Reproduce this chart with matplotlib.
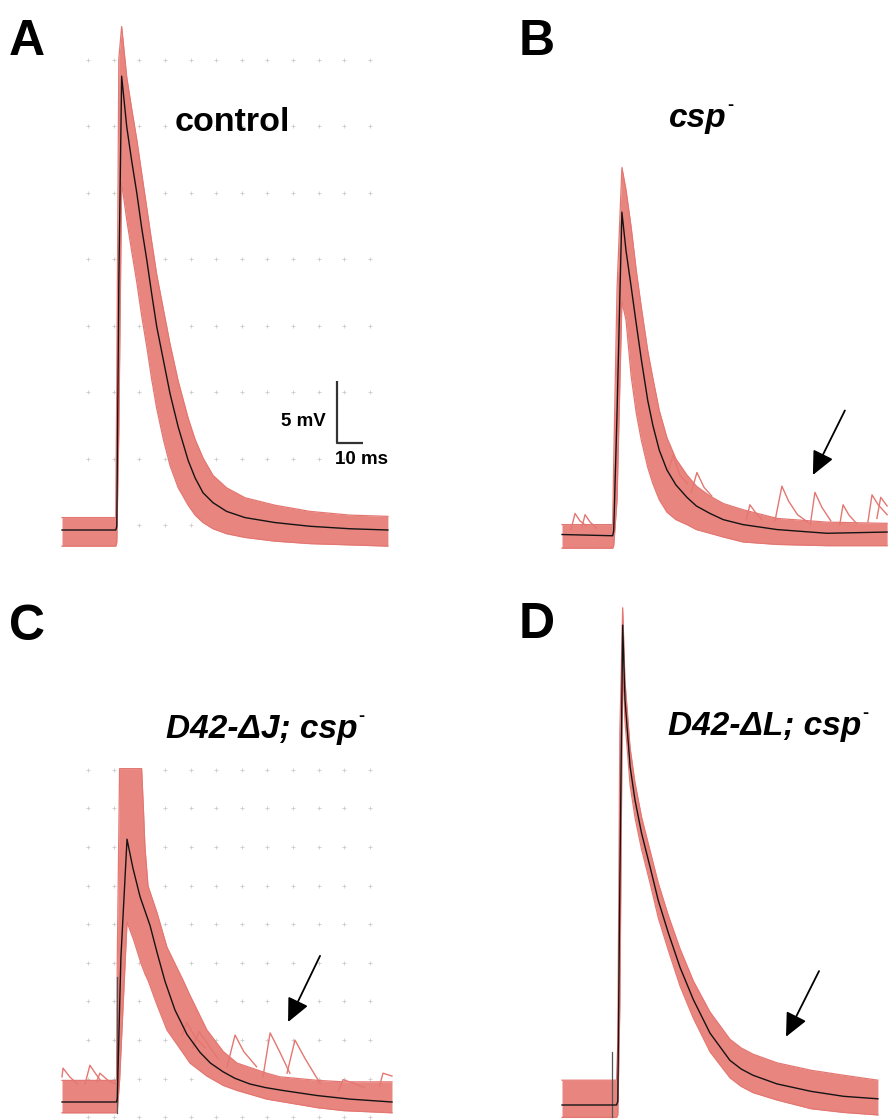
import numpy as np
import matplotlib
matplotlib.use("Agg")
import matplotlib.pyplot as plt

plt.rcParams['font.family'] = ['Liberation Sans', 'DejaVu Sans']

W, H = 888, 1120
PINK = '#E9857F'
PINK_EDGE = '#E47772'

# ---------------- data (time in ms, voltage in mV) ----------------
# Panel A: control
A_t    = [0, 21.0, 21.4, 22.2, 23.3, 25.3, 27.2, 29.2, 31.1, 33.1, 35.0, 37.0, 39.6, 42.2, 45.4, 49.3, 52.0, 55.1, 59.0, 64.3, 71.5, 83.2, 96.9, 112.5, 127.3]
A_mean = [0, 0, 0.3, 20.0, 36.6, 32.5, 29.8, 27.2, 24.4, 21.8, 19.1, 16.4, 13.7, 11.0, 8.3, 5.6, 4.2, 3.0, 2.2, 1.5, 1.0, 0.6, 0.3, 0.1, 0]
A_up   = [1.0, 1.0, 12.0, 38.0, 40.6, 36.5, 34.0, 31.5, 28.8, 26.0, 23.3, 20.6, 17.8, 15.0, 12.0, 9.0, 7.3, 5.8, 4.4, 3.4, 2.6, 2.0, 1.5, 1.2, 1.1]
A_lo   = [-1.3, -1.3, -1.0, 8.0, 28.0, 25.0, 22.5, 20.0, 17.3, 14.8, 12.2, 9.8, 7.3, 5.2, 3.4, 2.0, 1.2, 0.6, 0.1, -0.3, -0.6, -0.9, -1.1, -1.2, -1.3]

# Panel B: csp-
B_t    = [0, 19.8, 20.2, 21.5, 23.4, 25.0, 27.0, 29.0, 31.0, 33.5, 35.5, 38.0, 41.0, 44.5, 48.8, 52.5, 57.8, 63.0, 70.7, 84.0, 103.5, 127.0]
B_mean = [0.2, 0.1, 0.5, 10.0, 26.2, 23.1, 20.2, 17.2, 14.3, 11.0, 9.0, 7.0, 5.4, 4.2, 3.2, 2.5, 1.9, 1.4, 1.0, 0.6, 0.3, 0.4]
B_up   = [1.0, 1.0, 6.0, 20.0, 29.8, 28.0, 25.0, 21.5, 18.5, 15.0, 12.8, 10.2, 8.0, 6.3, 5.0, 4.1, 3.3, 2.7, 2.2, 1.5, 1.2, 1.1]
B_lo   = [-0.9, -0.9, -0.7, 3.0, 19.0, 17.5, 13.0, 10.0, 7.8, 5.6, 4.3, 3.0, 2.0, 1.4, 1.0, 0.6, 0.3, 0.0, -0.4, -0.6, -0.7, -0.7]
B_minis = [
    ([41.5, 43.4, 46.0, 49.0], [5.3, 6.6, 5.0, 4.3]),
    ([50.5, 52.7, 55.5, 58.5], [3.6, 5.2, 4.0, 3.3]),
    ([72.0, 73.4, 75.5, 78.0], [1.4, 2.6, 2.0, 1.4]),
    ([83.2, 85.9, 88.5, 92.0, 96.0], [1.3, 4.1, 2.9, 1.8, 1.2]),
    ([97.0, 98.8, 101.5, 105.0], [1.0, 3.6, 2.4, 1.3]),
    ([108.5, 109.8, 112.0, 115.0], [1.0, 2.6, 1.8, 1.1]),
    ([119.5, 121.1, 123.5, 127.0], [1.2, 3.4, 2.6, 1.8]),
    ([123.0, 124.5, 127.0], [1.5, 3.2, 2.5]),
    ([3.5, 5.1, 7.0, 9.5], [0.6, 1.9, 1.3, 0.9]),
    ([7.8, 9.0, 11.0, 13.5], [0.8, 1.8, 1.2, 0.7]),
]

# Panel C: D42-dJ; csp-
C_t    = [0, 21.3, 21.6, 23.0, 25.4, 27.7, 30.5, 34.4, 37.1, 40.2, 44.1, 48.8, 53.9, 58.0, 62.9, 67.5, 73.4, 79.5, 86.3, 99.6, 112.5, 128.9]
C_mean = [0, 0, 0.5, 20.0, 36.5, 32.5, 28.5, 24.5, 20.8, 16.8, 12.8, 9.4, 6.9, 5.4, 4.2, 3.3, 2.5, 2.0, 1.6, 0.9, 0.4, 0.0]
C_env_t = [0, 21.3, 21.6, 22.5, 25.4, 28.0, 31.1, 31.8, 32.4, 33.6, 37.1, 41.0, 47.3, 50.0, 56.6, 63.0, 68.4, 80.0, 85.0, 100.0, 110.0, 128.9]
C_up    = [3.0, 3.0, 20.0, 46.3, 46.3, 46.3, 46.3, 40.7, 35.4, 30.0, 26.3, 21.5, 16.9, 14.8, 10.0, 7.0, 5.4, 4.0, 3.5, 3.0, 2.8, 2.8]
C_lo    = [-1.5, -1.5, -1.2, 3.0, 25.0, 22.5, 19.0, 18.4, 17.8, 16.9, 13.5, 10.0, 6.8, 5.4, 3.6, 2.3, 1.6, 0.4, 0.1, -0.8, -1.2, -1.5]
C_minis = [
    ([46.9, 48.8, 52.0, 56.0], [9.3, 11.0, 9.0, 7.5]),
    ([51.0, 53.5, 57.0, 61.0], [7.5, 9.8, 8.0, 6.0]),
    ([64.5, 67.6, 71.0, 76.0], [4.9, 9.3, 7.0, 4.9]),
    ([78.5, 81.3, 85.0, 89.0], [3.5, 9.6, 7.0, 4.0]),
    ([87.9, 91.0, 95.0, 100.8], [4.0, 8.6, 6.0, 2.6]),
    ([108.0, 109.8, 114.0, 118.0], [1.5, 3.1, 2.6, 2.0]),
    ([124.0, 125.4, 128.9], [2.2, 4.0, 3.6]),
    ([0.0, 0.4, 3.0, 6.0], [3.5, 4.7, 3.5, 2.5]),
    ([9.0, 10.9, 13.0, 15.0], [2.5, 5.1, 4.0, 3.0]),
    ([13.5, 14.8, 18.0, 21.0], [2.8, 4.0, 3.0, 2.5]),
]
C_artifact = (21.5, -1.5, 17.4)

# Panel D: D42-dL; csp-
D_t    = [0, 21.3, 21.8, 22.6, 23.7, 24.6, 26.6, 28.5, 31.1, 34.4, 37.6, 41.5, 46.1, 51.3, 57.8, 65.6, 70.0, 74.6, 84.0, 97.3, 110.0, 123.4]
D_mean = [0, 0, 0.3, 18.0, 38.7, 32.7, 27.3, 24.6, 21.9, 19.2, 16.5, 13.9, 11.1, 8.5, 5.8, 3.6, 2.9, 2.4, 1.7, 1.1, 0.7, 0.5]
D_up   = [2.0, 2.0, 5.0, 30.0, 40.1, 34.2, 28.8, 26.0, 23.2, 20.5, 17.9, 15.3, 12.6, 10.0, 7.5, 5.3, 4.6, 4.1, 3.4, 2.8, 2.4, 2.0]
D_lo   = [-1.0, -1.0, -0.8, 8.0, 35.5, 31.0, 25.8, 23.2, 20.6, 17.9, 15.1, 12.5, 9.6, 7.0, 4.3, 2.2, 1.5, 1.0, 0.4, -0.3, -0.6, -0.8]
D_artifact = (19.5, -1.0, 4.3)

# arrows (tail, tip) in each panel's ms / mV
B_arrow = ((110.5, 10.2), (98.0, 5.0))
C_arrow = ((100.8, 20.3), (88.3, 11.1))
D_arrow = ((100.4, 10.8), (87.5, 5.5))

# scale bar in panel A: 10 ms x 5 mV
SB_T0, SB_V0, SB_DT, SB_DV = 107.4, 7.0, 10, 5

# background dot grids (10 ms columns, 5.36 mV rows)
GRID_T = np.arange(10.2, 125, 10.0)
A_GRID_V = 0.4 + 5.36 * np.arange(8)
C_GRID_V = -2.1 + 5.36 * np.arange(10)

# ---------------- figure ----------------
fig = plt.figure(figsize=(W / 100, H / 100), dpi=100)


def panel_axes(box, origin, px_ms, px_mv):
    l, t, r, b = box
    x0, y0 = origin
    ax = fig.add_axes([l / W, 1 - b / H, (r - l) / W, (b - t) / H])
    ax.set_xlim((l - x0) / px_ms, (r - x0) / px_ms)
    ax.set_ylim((y0 - b) / px_mv, (y0 - t) / px_mv)
    ax.axis('off')
    return ax


def draw_grid(ax, gt, gv):
    tt, vv = np.meshgrid(gt, gv)
    ax.scatter(tt.ravel(), vv.ravel(), marker='+', s=10, linewidths=0.6,
               color='#cccccc', zorder=0, clip_on=False)


def draw_traces(ax, t, mean, up, lo, env_t=None, minis=(), artifact=None):
    et = t if env_t is None else env_t
    ax.fill_between(et, lo, up, color=PINK, lw=0, zorder=1)
    ax.plot(et, up, color=PINK_EDGE, lw=0.9, zorder=2, solid_joinstyle='round')
    ax.plot(et, lo, color=PINK_EDGE, lw=0.9, zorder=2, solid_joinstyle='round')
    for mt, mv in minis:
        ax.plot(mt, mv, color=PINK_EDGE, lw=1.0, zorder=2)
    if artifact is not None:
        at, a0, a1 = artifact
        ax.plot([at, at], [a0, a1], color='#555555', lw=0.9, zorder=3)
    ax.plot(t, mean, color='#141414', lw=1.0, zorder=4, solid_joinstyle='round')


def draw_arrow(ax, arrow):
    tail, tip = arrow
    ax.annotate('', xy=tip, xytext=tail,
                arrowprops=dict(arrowstyle='-|>,head_length=0.9,head_width=0.42',
                                mutation_scale=16, lw=1.3, color='black',
                                shrinkA=0, shrinkB=0))


axA = panel_axes((40, 0, 444, 560), (62, 530), 2.56, 12.4)
axB = panel_axes((540, 0, 888, 560), (562, 537), 2.56, 12.4)
axC = panel_axes((40, 560, 444, 1120), (62, 1102), 2.56, 7.2)
axD = panel_axes((540, 560, 888, 1120), (562, 1105), 2.56, 12.4)

draw_grid(axA, GRID_T, A_GRID_V)
draw_grid(axC, GRID_T, C_GRID_V)

draw_traces(axA, A_t, A_mean, A_up, A_lo)
draw_traces(axB, B_t, B_mean, B_up, B_lo, minis=B_minis)
draw_traces(axC, C_t, C_mean, C_up, C_lo, env_t=C_env_t, minis=C_minis, artifact=C_artifact)
draw_traces(axD, D_t, D_mean, D_up, D_lo, artifact=D_artifact)

draw_arrow(axB, B_arrow)
draw_arrow(axC, C_arrow)
draw_arrow(axD, D_arrow)

# scale bar
axA.plot([SB_T0, SB_T0, SB_T0 + SB_DT], [SB_V0 + SB_DV, SB_V0, SB_V0],
         color='#333333', lw=1.6, solid_capstyle='butt', zorder=5)
axA.text(SB_T0 - 4.5, SB_V0 + 1.75, '5 mV', ha='right', va='center',
         fontsize=13.5, fontweight='bold')
axA.text(SB_T0 - 0.6, SB_V0 - 0.6, '10 ms', ha='left', va='top',
         fontsize=13.5, fontweight='bold')

# panel letters
for x, y, s in [(9, 55, 'A'), (519, 55, 'B'), (9, 640, 'C'), (519, 638, 'D')]:
    fig.text(x / W, 1 - y / H, s, fontsize=36, fontweight='bold', va='baseline')

# genotype labels
fig.text(175 / W, 1 - 131 / H, 'control', fontsize=24.5, fontweight='bold', va='baseline')

renderer = fig.canvas.get_renderer()


def label_sup(x, y, main):
    txt = fig.text(x / W, 1 - y / H, main, fontsize=24, fontweight='bold',
                   fontstyle='italic', va='baseline')
    bb = txt.get_window_extent(renderer=renderer)
    fig.text((bb.x1 + 1) / W, 1 - (y - 17) / H, '-', fontsize=13,
             fontweight='bold', va='baseline')


label_sup(669, 127, 'csp')
label_sup(166, 738, 'D42-\u0394J; csp')
label_sup(668, 735, 'D42-\u0394L; csp')

fig.savefig('out.png', dpi=100)
